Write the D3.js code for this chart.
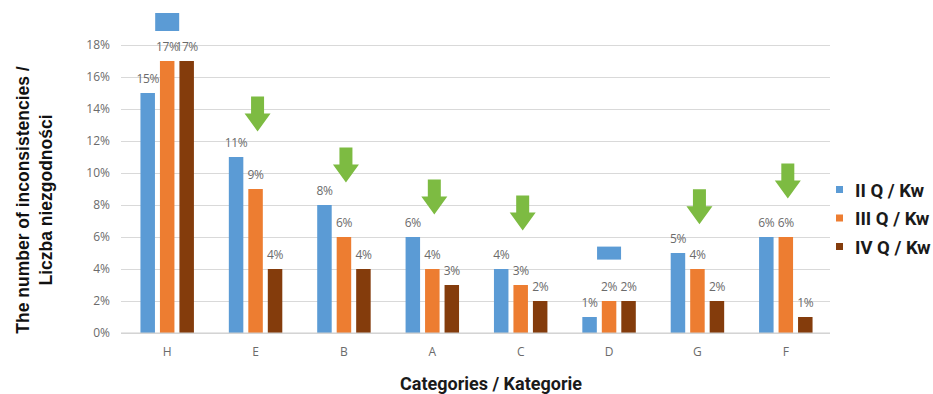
<!DOCTYPE html>
<html>
<head>
<meta charset="utf-8">
<script src="https://cdn.jsdelivr.net/npm/d3@7"></script>
<style>
  html, body { margin: 0; padding: 0; background: #fff; }
  svg { display: block; }
</style>
</head>
<body>
<svg id="chart" width="933" height="394"></svg>
<script>
// Category order along the x axis
const categories = ["H", "E", "B", "A", "C", "D", "G", "F"];
// Quarter series (share of inconsistencies, %)
const seriesNames = ["II Q / Kw", "III Q / Kw", "IV Q / Kw"];
const q2 = [15, 11, 8, 6, 4, 1, 5, 6];
const q3 = [17, 9, 6, 4, 3, 2, 4, 6];
const q4 = [17, 4, 4, 3, 2, 2, 2, 1];
const yTicks = [0, 2, 4, 6, 8, 10, 12, 14, 16, 18];
// Categories marked with a downward trend arrow
const arrowCats = ["E", "B", "A", "C", "G", "F"];
// Arrow tip value (in %) for each marked category
const arrowTips = [12.6, 9.4, 7.4, 6.4, 6.8, 8.4];
// Loose blue markers: [category, value at marker top]
const blueMarks = [["H", 20], ["D", 5.4]];

const colors = ["#5B9BD5", "#ED7D31", "#843C0C"];
const values = [q2, q3, q4];

const svg = d3.select("#chart");
const m = { left: 123, right: 830, top: 45, bottom: 333 };

const y = d3.scaleLinear().domain([0, 18]).range([m.bottom, m.top]);
const x0 = d3.scaleBand().domain(categories).range([m.left, m.right])
  .paddingInner(0.395).paddingOuter(0.1975);
const x1 = d3.scaleBand().domain(seriesNames).range([0, x0.bandwidth()])
  .paddingInner(0.256).paddingOuter(0);

// Horizontal grid
const grid = d3.axisLeft(y).tickValues(yTicks).tickSize(-(m.right - 121)).tickFormat("");
svg.append("g").attr("transform", `translate(121,0)`).call(grid)
  .call(g => g.select(".domain").remove())
  .call(g => g.selectAll("line").attr("stroke", "#d9d9d9").attr("stroke-width", 1));

// Y tick labels
const yAxis = d3.axisLeft(y).tickValues(yTicks).tickSize(0).tickPadding(0)
  .tickFormat(d => d + "%");
svg.append("g").attr("transform", `translate(110,0)`).call(yAxis)
  .call(g => g.select(".domain").remove())
  .call(g => g.selectAll("text").attr("fill", "#6b6b6b")
    .style("font-family", "'Open Sans', sans-serif").style("font-size", "12px"));

// Bars
const rows = categories.map((c, i) => ({ cat: c, vals: values.map(v => v[i]) }));
const groups = svg.append("g").selectAll("g").data(rows).join("g")
  .attr("transform", d => `translate(${x0(d.cat)},0)`);
groups.selectAll("rect").data(d => d.vals.map((v, k) => ({ v, s: seriesNames[k], k })))
  .join("rect")
  .attr("x", d => x1(d.s)).attr("width", x1.bandwidth())
  .attr("y", d => y(d.v)).attr("height", d => y(0) - y(d.v))
  .attr("fill", d => colors[d.k]);

// Value labels
groups.selectAll("text").data(d => d.vals.map((v, k) => ({ v, s: seriesNames[k], k })))
  .join("text")
  .attr("x", d => x1(d.s) + x1.bandwidth() / 2)
  .attr("y", d => y(d.v) - 10)
  .attr("text-anchor", "middle")
  .attr("fill", "#6b6b6b")
  .style("font-family", "'Open Sans', sans-serif").style("font-size", "12px")
  .style("letter-spacing", "-0.4px")
  .text(d => d.v + "%");

// Baseline
svg.append("line").attr("x1", 121).attr("x2", m.right).attr("y1", y(0)).attr("y2", y(0))
  .attr("stroke", "#cfcfcf");

// Category labels
const xAxis = d3.axisBottom(x0).tickSize(0).tickPadding(0);
svg.append("g").attr("transform", `translate(0,${y(0) + 14})`).call(xAxis)
  .call(g => g.select(".domain").remove())
  .call(g => g.selectAll("text").attr("fill", "#6b6b6b")
    .style("font-family", "'Open Sans', sans-serif").style("font-size", "12px"));

// Green trend arrows
const arrowPath = (cx, tipY) => {
  const hw = 13, sw = 6.5, headH = 18, shaftH = 17;
  const top = tipY - headH - shaftH, neck = tipY - headH;
  return `M${cx - sw},${top}H${cx + sw}V${neck}H${cx + hw}L${cx},${tipY}L${cx - hw},${neck}H${cx - sw}Z`;
};
svg.append("g").selectAll("path").data(arrowCats.map((c, i) => ({ c, t: arrowTips[i] })))
  .join("path")
  .attr("d", d => arrowPath(x0(d.c) + x0.bandwidth() / 2 + 2, y(d.t)))
  .attr("fill", "#7DBB42");

// Blue markers
svg.append("g").selectAll("rect").data(blueMarks).join("rect")
  .attr("x", d => x0(d[0]) + x0.bandwidth() / 2 - 12)
  .attr("y", d => y(d[1]))
  .attr("width", 24).attr("height", d => d[0] === "H" ? 18 : 13)
  .attr("fill", "#5B9BD5");

// Legend
const legend = svg.append("g").attr("transform", "translate(836,0)");
seriesNames.forEach((s, i) => {
  const cy = 190 + i * 28.5;
  legend.append("rect").attr("x", 0).attr("y", cy - 4).attr("width", 7).attr("height", 7)
    .attr("fill", colors[i]);
  legend.append("text").attr("x", 19).attr("y", cy + 6.5)
    .style("font-family", "Roboto, sans-serif").style("font-weight", "bold")
    .style("font-size", "18.5px").attr("fill", "#1a1a1a").text(s);
});

// Axis titles
svg.append("text").attr("x", 491).attr("y", 390).attr("text-anchor", "middle")
  .style("font-family", "Roboto, sans-serif").style("font-weight", "bold")
  .style("font-size", "18px").attr("fill", "#1a1a1a").text("Categories / Kategorie");

const yTitle = svg.append("text").attr("transform", "translate(0,200) rotate(-90)")
  .attr("text-anchor", "middle")
  .style("font-family", "'Liberation Sans', Arial, sans-serif").style("font-weight", "bold")
  .style("font-size", "17.5px").attr("fill", "#111");
yTitle.append("tspan").attr("x", 0).attr("y", 29).text("The number of inconsistencies /");
yTitle.append("tspan").attr("x", 0).attr("y", 52).text("Liczba niezgodności");
</script>
</body>
</html>
